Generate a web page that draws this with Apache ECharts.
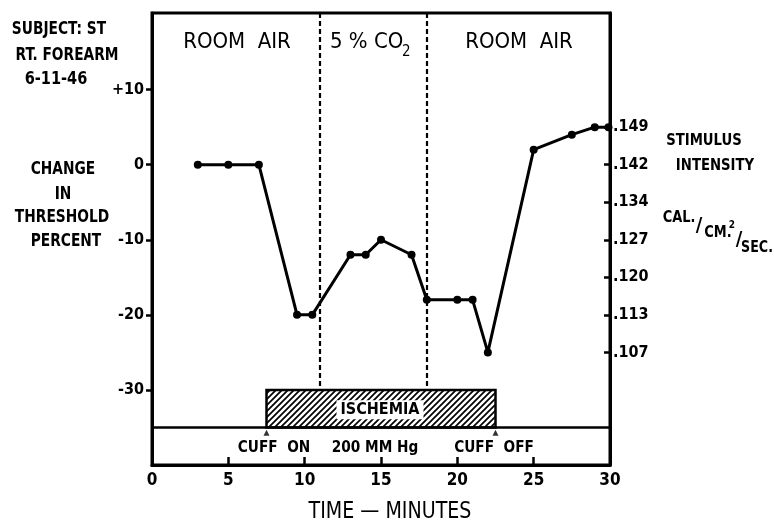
<!DOCTYPE html>
<html>
<head>
<meta charset="utf-8">
<script src="https://cdn.jsdelivr.net/npm/echarts@6/dist/echarts.min.js"></script>
<style>
  html, body { margin: 0; padding: 0; background: #fff; }
  #chart { width: 774px; height: 524px; }
</style>
</head>
<body>
<div id="chart"></div>
<script>
// readings
var times      = [3, 5, 7, 9.5, 10.5, 13, 14, 15, 17, 18, 20, 21, 22, 25, 27.5, 29, 29.9];
var thresholds = [0, 0, 0, -20, -20, -12, -12, -10, -12, -18, -18, -18, -25, 2, 4, 5, 5];
var dividerTimes = [11, 18];
var ischemiaSpan = [7.5, 22.5];
var ischemiaTop = -30;
var cuffLevel = -35;
var xTicks = [5, 10, 15, 20, 25];
var leftTicks = [10, 0, -10, -20, -30];
var rightTickVals = [5, 0, -5, -10, -15, -20, -25];
var rightTickLabels = ['.149', '.142', '.134', '.127', '.120', '.113', '.107'];

var FONT = '"DejaVu Sans Condensed", "DejaVu Sans", sans-serif';
var yMin = -40, yMax = 20.2;

// hatch tile for the ischemia bar
var tile = document.createElement('canvas');
tile.width = 6; tile.height = 6;
(function () {
    var c = tile.getContext('2d');
    c.fillStyle = '#fff';
    c.fillRect(0, 0, 6, 6);
    c.strokeStyle = '#000';
    c.lineWidth = 1.7;
    c.beginPath();
    c.moveTo(-1, 7); c.lineTo(7, -1);
    c.moveTo(-4, 4); c.lineTo(4, -4);
    c.moveTo(2, 10); c.lineTo(10, 2);
    c.stroke();
})();

var dividerLines = dividerTimes.map(function (t) {
    return [{ coord: [t, yMax] }, { coord: [t, ischemiaTop] }];
});

function txt(x, y, s, size, weight, align, sx) {
    return {
        type: 'text', x: x, y: y, z: 10, scaleX: sx || 1,
        style: {
            text: s, fill: '#000', align: align || 'center', verticalAlign: 'middle',
            font: (weight || 'bold') + ' ' + size + 'px ' + FONT
        }
    };
}

var option = {
    animation: false,
    grid: { left: 152, right: 164, top: 13, bottom: 59, show: true, borderColor: '#000', borderWidth: 3 },
    xAxis: {
        type: 'value', min: 0, max: 30, interval: 5,
        axisLine: { onZero: false, lineStyle: { color: '#000', width: 3 } },
        axisTick: { inside: true, length: 8, customValues: xTicks, lineStyle: { color: '#000', width: 2.5 } },
        axisLabel: { margin: 7, color: '#000', fontFamily: FONT, fontWeight: 'bold', fontSize: 17 },
        splitLine: { show: false }
    },
    yAxis: [{
        type: 'value', min: yMin, max: yMax, interval: 10,
        axisLine: { show: true, lineStyle: { color: '#000', width: 3 } },
        axisTick: { length: 6, customValues: leftTicks, lineStyle: { color: '#000', width: 2.5 } },
        axisLabel: {
            customValues: leftTicks, margin: 8, color: '#000', fontFamily: FONT, fontWeight: 'bold', fontSize: 16,
            formatter: function (v) { return v > 0 ? '+' + v : String(v); }
        },
        splitLine: { show: false }
    }, {
        type: 'value', min: yMin, max: yMax, interval: 5, position: 'right',
        axisLine: { show: true, lineStyle: { color: '#000', width: 3 } },
        axisTick: { inside: true, length: 6, customValues: rightTickVals, lineStyle: { color: '#000', width: 2.5 } },
        axisLabel: {
            customValues: rightTickVals, margin: 3, color: '#000', fontFamily: FONT, fontWeight: 'bold', fontSize: 16,
            formatter: function (v) {
                var i = rightTickVals.indexOf(v);
                return i < 0 ? '' : rightTickLabels[i];
            }
        },
        splitLine: { show: false }
    }],
    series: [{
        type: 'custom',
        renderItem: function (params, api) {
            var p0 = api.coord([api.value(0), api.value(2)]);
            var p1 = api.coord([api.value(1), api.value(3)]);
            return {
                type: 'group',
                children: [{
                    type: 'rect',
                    shape: { x: p0[0], y: p0[1], width: p1[0] - p0[0], height: p1[1] - p0[1] },
                    style: { fill: { image: tile, repeat: 'repeat' }, stroke: '#000', lineWidth: 2.5 }
                }, {
                    type: 'text',
                    style: {
                        text: 'ISCHEMIA', x: 380, y: (p0[1] + p1[1]) / 2 + 1,
                        align: 'center', verticalAlign: 'middle', fill: '#000',
                        font: 'bold 16px ' + FONT, backgroundColor: '#fff', padding: [2, 4, 1, 4]
                    }
                }]
            };
        },
        data: [[ischemiaSpan[0], ischemiaSpan[1], ischemiaTop, cuffLevel]],
        z: 1
    }, {
        type: 'line',
        data: times.map(function (t, i) { return [t, thresholds[i]]; }),
        symbol: 'circle', symbolSize: 8,
        lineStyle: { color: '#000', width: 3 },
        itemStyle: { color: '#000' },
        z: 5,
        markLine: {
            silent: true, symbol: 'none', label: { show: false },
            lineStyle: { color: '#000', type: [5, 3], width: 2.2 },
            data: dividerLines.concat([{ yAxis: cuffLevel, lineStyle: { type: 'solid', width: 2.5 } }])
        }
    }, {
        type: 'scatter',
        data: ischemiaSpan.map(function (t) { return [t, cuffLevel - 0.7]; }),
        symbol: 'triangle', symbolSize: [6, 6],
        itemStyle: { color: '#000' }, z: 6
    }],
    graphic: [
        txt(237, 42, 'ROOM  AIR', 22, 'normal'),
        txt(519, 42, 'ROOM  AIR', 22, 'normal'),
        txt(330, 42, '5 % CO', 22, 'normal', 'left'),
        txt(402, 52, '2', 15, 'normal', 'left'),
        txt(59, 30, 'SUBJECT: ST', 17, 'bold', 'center', 0.9),
        txt(67, 56, 'RT. FOREARM', 17, 'bold', 'center', 0.9),
        txt(56, 80, '6-11-46', 17, 'bold', 'center', 0.95),
        txt(63, 170, 'CHANGE', 17, 'bold', 'center', 0.9),
        txt(63, 195, 'IN', 17, 'bold', 'center', 0.9),
        txt(62, 218, 'THRESHOLD', 17, 'bold', 'center', 0.9),
        txt(66, 242, 'PERCENT', 17, 'bold', 'center', 0.9),
        txt(704, 141, 'STIMULUS', 16, 'bold', 'center', 0.92),
        txt(715, 166, 'INTENSITY', 16, 'bold', 'center', 0.92),
        txt(679, 218, 'CAL.', 16, 'bold', 'center', 0.9),
        txt(699, 226, '/', 20, 'bold', 'center', 1),
        txt(718, 233, 'CM.', 16, 'bold', 'center', 0.9),
        txt(732, 225, '2', 10, 'bold', 'center', 1),
        txt(739, 240, '/', 20, 'bold', 'center', 1),
        txt(757, 248, 'SEC.', 16, 'bold', 'center', 0.88),
        txt(274, 448, 'CUFF  ON', 16, 'bold', 'center', 0.95),
        txt(375, 448, '200 MM Hg', 16, 'bold', 'center', 0.95),
        txt(494, 448, 'CUFF  OFF', 16, 'bold', 'center', 0.95),
        txt(390, 512, 'TIME — MINUTES', 23, 'normal', 'center', 0.92)
    ]
};

var myChart = echarts.init(document.getElementById('chart'));
myChart.setOption(option);
</script>
</body>
</html>
